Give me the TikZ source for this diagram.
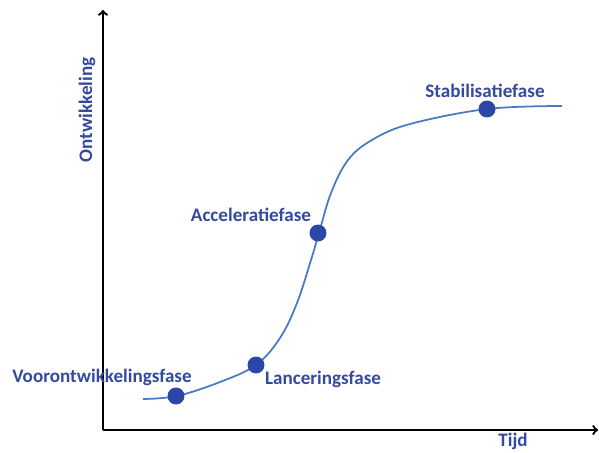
\documentclass[tikz,border=0pt]{standalone}
\usepackage{fontspec}
\setmainfont{Carlito}
\usetikzlibrary{positioning}

\definecolor{labelblue}{RGB}{52,74,160}
\definecolor{dotblue}{RGB}{43,72,168}
\definecolor{curveblue}{RGB}{74,122,196}

\tikzset{phase/.style={text=labelblue, font=\fontsize{16.3}{19}\selectfont\bfseries, inner sep=0pt}}
\tikzset{stage/.style={circle, fill=dotblue, minimum size=14.5pt, inner sep=0pt}}

\begin{document}
\begin{tikzpicture}[x=0.03cm, y=-0.03cm, line width=2pt]
	\useasboundingbox (0,0) rectangle (599,452);

	% axes
	\coordinate (origin) at (103,430);
	\coordinate (ytop) at (103,10);
	\coordinate (xend) at (598,430);
	\draw[->] (origin) -- (ytop);
	\draw[->] (origin) -- (xend);

	\node[phase, rotate=90] (yaxis) at (87,110) {Ontwikkeling};
	\node[phase] (xaxis) at (513,441) {Tijd};

	% growth curve
	\draw[curveblue, line width=1.5pt] plot[smooth, tension=0.6] coordinates {
		(143,399) (177,396) (220,382) (256,365) (280,338) (297,303)
		(311,260) (319,233) (331,193) (348,160) (372,140) (410,124)
		(487,109) (562,106)};

	\node[stage] (dot1) at (176,396) {};
	\node[stage] (dot2) at (256,365) {};
	\node[stage] (dot3) at (318,233) {};
	\node[stage] (dot4) at (487,109) {};

	\node[phase] (voorontwikkeling) at (102,377) {Voorontwikkelingsfase};
	\node[phase] (lancering) at (323,379) {Lanceringsfase};
	\node[phase] (acceleratie) at (251,215) {Acceleratiefase};
	\node[phase] (stabilisatie) at (485,91) {Stabilisatiefase};
\end{tikzpicture}
\end{document}
